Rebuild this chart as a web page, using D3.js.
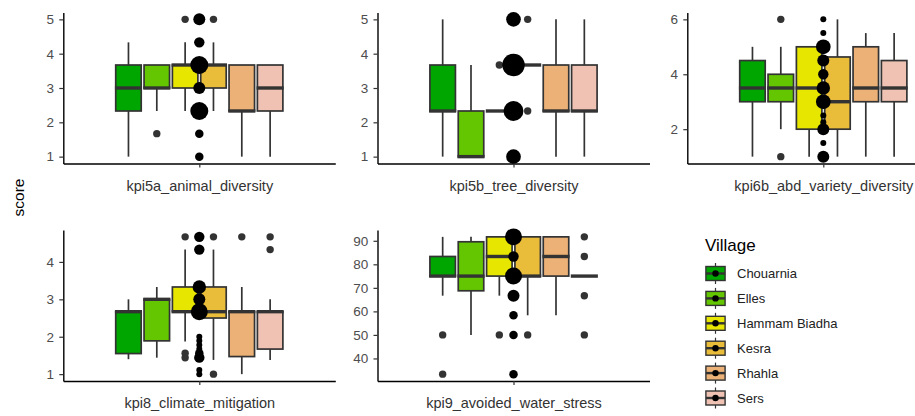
<!DOCTYPE html>
<html>
<head>
<meta charset="utf-8">
<script src="https://cdn.jsdelivr.net/npm/d3@7"></script>
<style>
body { margin: 0; background: #fff; }
text { font-family: Arial, "Liberation Sans", sans-serif; }
</style>
</head>
<body>
<div id="chart"></div>
<script>
var villages = ["Chouarnia", "Elles", "Hammam Biadha", "Kesra", "Rhahla", "Sers"];
var villageColors = ["#00A600", "#63C600", "#E6E600", "#E9BD3A", "#ECB176", "#EFC2B3"];
var kpis = ["kpi5a_animal_diversity", "kpi5b_tree_diversity", "kpi6b_abd_variety_diversity",
            "kpi8_climate_mitigation", "kpi9_avoided_water_stress"];

// box stats per village: [lower whisker, q1, median, q3, upper whisker]
var kpi5aBoxes = [[1, 2.33, 3, 3.67, 4.33], [2.33, 3, 3, 3.67, 3.67], [2.33, 3, 3.67, 3.67, 4.33],
                  [2.33, 3, 3.67, 3.67, 4.33], [1, 2.33, 2.33, 3.67, 3.67], [1, 2.33, 3, 3.67, 3.67]];
var kpi5aOutliers = [[], [1.67], [5], [5], [], []];
// pooled answers: [score, count]
var kpi5aCounts = [[5, 4], [4.33, 3], [3.67, 9], [3, 4], [2.33, 9], [1.67, 2], [1, 2]];

var kpi5bBoxes = [[1, 2.33, 2.33, 3.67, 5], [1, 1, 1, 2.33, 3.67], [2.33, 2.33, 2.33, 2.33, 2.33],
                  [3.67, 3.67, 3.67, 3.67, 3.67], [1, 2.33, 2.33, 3.67, 5], [1, 2.33, 2.33, 3.67, 5]];
var kpi5bOutliers = [[], [], [3.67], [5, 2.33], [], []];
var kpi5bCounts = [[5, 6], [3.67, 14], [2.33, 11], [1, 6]];

var kpi6bBoxes = [[1, 3, 3.5, 4.5, 5], [2, 3, 3.5, 4, 5], [1, 2, 3.5, 5, 5],
                  [1, 2, 3, 4.63, 6], [1, 3, 3.5, 5, 5.5], [1, 3, 3.5, 4.5, 5.5]];
var kpi6bOutliers = [[], [6, 1], [], [], [], []];
var kpi6bCounts = [[6, 1], [5.5, 1], [5, 6], [4.5, 4], [4, 3], [3.5, 5], [3, 6],
                   [2.5, 1], [2.25, 1], [2, 4], [1.5, 1], [1, 4]];

var kpi8Boxes = [[1.4, 1.55, 2.67, 2.67, 3], [1.44, 1.89, 3, 3, 3.33], [1.87, 2.67, 2.67, 3.33, 4.33],
                 [1.38, 2.5, 2.67, 3.33, 4.33], [1, 1.47, 2.67, 2.67, 3.33], [1.38, 1.67, 2.67, 2.67, 3]];
var kpi8Outliers = [[], [], [4.67, 1.56, 1.44], [4.67, 1], [4.67], [4.67, 4.33]];
var kpi8Counts = [[4.67, 3], [4.33, 3], [3.33, 5], [3, 4], [2.67, 8], [2, 1], [1.89, 1], [1.78, 1],
                  [1.67, 1], [1.56, 2], [1.44, 3], [1.11, 1], [1, 1]];

var kpi9Boxes = [[66.67, 75, 75, 83.33, 91.67], [50, 68.75, 75, 89.58, 91.67], [66.67, 75, 83.33, 91.67, 91.67],
                 [58.33, 75, 75, 91.67, 91.67], [58.33, 75, 83.33, 91.67, 91.67], [75, 75, 75, 75, 75]];
var kpi9Outliers = [[50, 33.33], [], [50], [50], [], [91.67, 83.33, 66.67, 50]];
var kpi9Counts = [[91.67, 8], [83.33, 3], [75, 8], [66.67, 4], [58.33, 2], [50, 2], [33.33, 2]];

var kpi5aTicks = [1, 2, 3, 4, 5];
var kpi5bTicks = [1, 2, 3, 4, 5];
var kpi6bTicks = [2, 4, 6];
var kpi8Ticks = [1, 2, 3, 4];
var kpi9Ticks = [40, 50, 60, 70, 80, 90];

var panels = [
    {name: kpis[0], boxes: kpi5aBoxes, outliers: kpi5aOutliers, counts: kpi5aCounts, ticks: kpi5aTicks},
    {name: kpis[1], boxes: kpi5bBoxes, outliers: kpi5bOutliers, counts: kpi5bCounts, ticks: kpi5bTicks},
    {name: kpis[2], boxes: kpi6bBoxes, outliers: kpi6bOutliers, counts: kpi6bCounts, ticks: kpi6bTicks},
    {name: kpis[3], boxes: kpi8Boxes, outliers: kpi8Outliers, counts: kpi8Counts, ticks: kpi8Ticks},
    {name: kpis[4], boxes: kpi9Boxes, outliers: kpi9Outliers, counts: kpi9Counts, ticks: kpi9Ticks}
];

var svg = d3.select("#chart").append("svg")
    .attr("width", 915)
    .attr("height", 416);

var colLeft = [63.3, 377.5, 687.3];
var rowTop = [12.5, 230];
var panelW = 272, panelH = 151;

var radius = d3.scaleSqrt().domain([0, 1]).range([0, 3]);

panels.forEach(function(p, i) {
    var g = svg.append("g")
        .attr("transform", "translate(" + colLeft[i % 3] + "," + rowTop[Math.floor(i / 3)] + ")");

    var all = [];
    p.boxes.forEach(function(b) { all = all.concat(b); });
    p.outliers.forEach(function(o) { all = all.concat(o); });
    p.counts.forEach(function(c) { all.push(c[0]); });
    var ext = d3.extent(all);
    var pad = (ext[1] - ext[0]) * 0.05;

    var y = d3.scaleLinear()
        .domain([ext[0] - pad, ext[1] + pad])
        .range([panelH, 0]);

    var x = d3.scalePoint()
        .domain([p.name])
        .range([0, panelW])
        .padding(0.5);

    // dodge: boxes take 0.75 of a category step (ggplot expands by 0.6 each side)
    var half = panelW * 0.75 / 1.2 / 2;
    var dodge = d3.scaleBand()
        .domain(villages)
        .range([x(p.name) - half, x(p.name) + half]);
    var bw = dodge.bandwidth() * 0.9;

    var box = g.selectAll(".box")
        .data(p.boxes)
        .enter().append("g")
        .attr("class", "box")
        .attr("transform", function(d, j) {
            return "translate(" + (dodge(villages[j]) + dodge.bandwidth() / 2) + ",0)";
        });

    box.append("line")
        .attr("y1", function(d) { return y(d[3]); })
        .attr("y2", function(d) { return y(d[4]); })
        .attr("stroke", "#333")
        .attr("stroke-width", 1.7);
    box.append("line")
        .attr("y1", function(d) { return y(d[0]); })
        .attr("y2", function(d) { return y(d[1]); })
        .attr("stroke", "#333")
        .attr("stroke-width", 1.7);
    box.append("rect")
        .attr("x", -bw / 2)
        .attr("width", bw)
        .attr("y", function(d) { return y(d[3]); })
        .attr("height", function(d) { return y(d[1]) - y(d[3]); })
        .attr("fill", function(d, j) { return villageColors[j]; })
        .attr("stroke", "#333")
        .attr("stroke-width", 1.7);
    box.append("line")
        .attr("x1", -bw / 2 - 0.8)
        .attr("x2", bw / 2 + 0.8)
        .attr("y1", function(d) { return y(d[2]); })
        .attr("y2", function(d) { return y(d[2]); })
        .attr("stroke", "#333")
        .attr("stroke-width", 3.4);

    // boxplot outliers
    box.selectAll(".out")
        .data(function(d, j) { return p.outliers[j]; })
        .enter().append("circle")
        .attr("class", "out")
        .attr("cy", function(v) { return y(v); })
        .attr("r", 3.7)
        .attr("fill", "#333");

    // pooled counts at the category centre
    g.selectAll(".cnt")
        .data(p.counts)
        .enter().append("circle")
        .attr("class", "cnt")
        .attr("cx", x(p.name))
        .attr("cy", function(d) { return y(d[0]); })
        .attr("r", function(d) { return radius(d[1]); })
        .attr("fill", "#000");

    var yAxis = g.append("g")
        .call(d3.axisLeft(y).tickValues(p.ticks).tickFormat(d3.format("d"))
            .tickSize(4).tickPadding(5.3).tickSizeOuter(0));
    var xAxis = g.append("g")
        .attr("transform", "translate(0," + panelH + ")")
        .call(d3.axisBottom(x).tickSize(4).tickPadding(13.2).tickSizeOuter(0));

    [yAxis, xAxis].forEach(function(a) {
        a.select(".domain").attr("stroke", "#000").attr("stroke-width", 1.4);
        a.selectAll(".tick line").attr("stroke", "#333").attr("stroke-width", 1.2);
    });
    yAxis.selectAll(".tick text")
        .attr("fill", "#4D4D4D")
        .style("font-size", "13.5px");
    xAxis.selectAll(".tick text")
        .attr("fill", "#333")
        .style("font-size", "14.5px");
});

svg.append("text")
    .attr("transform", "translate(24,197.5) rotate(-90)")
    .attr("text-anchor", "middle")
    .style("font-size", "15.5px")
    .attr("fill", "#000")
    .text("score");

// legend
var legend = svg.append("g");
legend.append("text")
    .attr("x", 705)
    .attr("y", 251)
    .style("font-size", "17px")
    .attr("fill", "#000")
    .text("Village");

var keyY = d3.scalePoint()
    .domain(villages)
    .range([273.5, 398]);

var key = legend.selectAll(".key")
    .data(villages)
    .enter().append("g")
    .attr("class", "key")
    .attr("transform", function(d) { return "translate(715.5," + keyY(d) + ")"; });

key.append("line")
    .attr("y1", -10.5)
    .attr("y2", 10.5)
    .attr("stroke", "#333")
    .attr("stroke-width", 1.2);
key.append("rect")
    .attr("x", -9.6)
    .attr("y", -7)
    .attr("width", 19.2)
    .attr("height", 14)
    .attr("fill", function(d, j) { return villageColors[j]; })
    .attr("stroke", "#333")
    .attr("stroke-width", 1.4);
key.append("line")
    .attr("x1", -9.6)
    .attr("x2", 9.6)
    .attr("stroke", "#333")
    .attr("stroke-width", 2.4);
key.append("circle")
    .attr("r", 3.2)
    .attr("fill", "#000");
key.append("text")
    .attr("x", 21.5)
    .attr("y", 4.6)
    .style("font-size", "13px")
    .attr("fill", "#222")
    .text(function(d) { return d; });
</script>
</body>
</html>
